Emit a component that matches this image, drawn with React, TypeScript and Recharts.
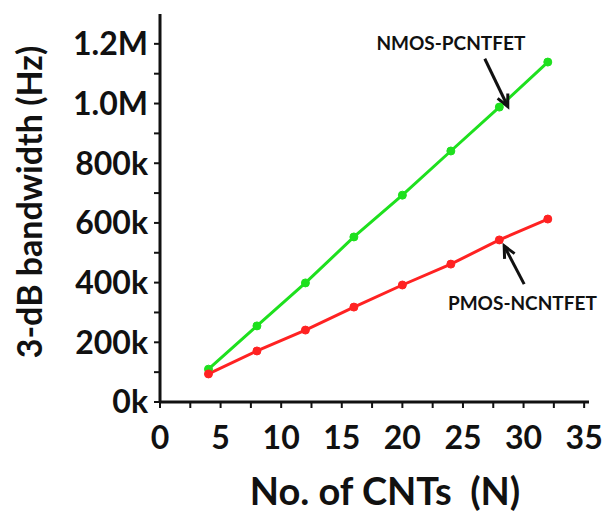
import { CartesianGrid, Line, LineChart, ReferenceDot, ReferenceLine, XAxis, YAxis } from "recharts";

const cntCounts = [4, 8, 12, 16, 20, 24, 28, 32];
const nmosPcntfet = [110000, 255000, 399000, 553000, 693000, 841000, 988000, 1139000];
const pmosNcntfet = [94000, 171000, 241000, 318000, 392000, 462000, 543000, 613000];

const xTicks = [0, 2.5, 5, 7.5, 10, 12.5, 15, 17.5, 20, 22.5, 25, 27.5, 30, 32.5, 35];
const yTicks = [0, 100000, 200000, 300000, 400000, 500000, 600000, 700000, 800000, 900000, 1000000, 1100000, 1200000];

const data = cntCounts.map((n, i) => ({ n, nmos: nmosPcntfet[i], pmos: pmosNcntfet[i] }));

const FONT = "Lato, 'Open Sans', sans-serif";
const INK = "#111";

const fmtY = (v: number) => {
  if (v % 200000 !== 0) return "";
  if (v >= 1000000) return `${(v / 1000000).toFixed(1)}M`;
  return `${v / 1000}k`;
};

const fmtX = (v: number) => (v % 5 === 0 ? String(v) : "");

function Arrow(props: any) {
  const { x1, y1, x2, y2 } = props;
  if (x1 == null || x2 == null) return null;
  const ang = Math.atan2(y2 - y1, x2 - x1);
  const len = 13;
  const spread = 0.45;
  const ax = x2 - len * Math.cos(ang - spread);
  const ay = y2 - len * Math.sin(ang - spread);
  const bx = x2 - len * Math.cos(ang + spread);
  const by = y2 - len * Math.sin(ang + spread);
  return (
    <g>
      <line x1={x1} y1={y1} x2={x2} y2={y2} stroke={INK} strokeWidth={3} />
      <polyline points={`${ax},${ay} ${x2},${y2} ${bx},${by}`} fill="none" stroke={INK} strokeWidth={3} />
    </g>
  );
}

function note(text: string) {
  return (props: any) => (
    <text
      x={props.cx}
      y={props.cy}
      textAnchor="middle"
      dominantBaseline="central"
      fontFamily={FONT}
      fontWeight={700}
      fontSize={19}
      fill={INK}
    >
      {text}
    </text>
  );
}

export default function App() {
  return (
    <div style={{ position: "absolute", left: 0, top: 0, background: "#fff" }}>
      <LineChart width={612} height={514} data={data} margin={{ top: 14, right: 23, bottom: 0, left: 0 }}>
        <CartesianGrid stroke="none" />
        <XAxis
          dataKey="n"
          type="number"
          domain={[0, 35.4]}
          ticks={xTicks}
          tickFormatter={fmtX}
          height={112}
          axisLine={{ stroke: INK, strokeWidth: 3 }}
          tickLine={{ stroke: INK, strokeWidth: 2 }}
          tickSize={6}
          tickMargin={18}
          tick={{ fill: INK, fontSize: 32, fontWeight: 700, fontFamily: FONT }}
          interval={0}
          label={{
            content: () => (
              <text x={385} y={490} textAnchor="middle" dominantBaseline="central" fontFamily={FONT} fontWeight={700} fontSize={38} fill={INK}>
                {"No. of CNTs\u00a0\u00a0(N)"}
              </text>
            )
          }}
        />
        <YAxis
          type="number"
          domain={[0, 1300000]}
          ticks={yTicks}
          tickFormatter={fmtY}
          width={160}
          axisLine={{ stroke: INK, strokeWidth: 3 }}
          tickLine={{ stroke: INK, strokeWidth: 2 }}
          tickSize={6}
          tickMargin={6}
          tick={{ fill: INK, fontSize: 32, fontWeight: 700, fontFamily: FONT }}
          interval={0}
          label={{
            content: () => (
              <text
                x={28}
                y={202}
                transform="rotate(-90 28 202)"
                textAnchor="middle"
                dominantBaseline="central"
                fontFamily={FONT}
                fontWeight={700}
                fontSize={34}
                fill={INK}
              >
                3-dB bandwidth (Hz)
              </text>
            )
          }}
        />
        <Line
          type="linear"
          dataKey="nmos"
          stroke="#1ee01e"
          strokeWidth={3}
          dot={{ r: 4, fill: "#1ee01e", stroke: "#1ee01e", strokeWidth: 1 }}
          isAnimationActive={false}
        />
        <Line
          type="linear"
          dataKey="pmos"
          stroke="#ff2222"
          strokeWidth={3}
          dot={{ r: 4, fill: "#ff2222", stroke: "#ff2222", strokeWidth: 1 }}
          isAnimationActive={false}
        />
        <ReferenceLine segment={[{ x: 26.8, y: 1150000 }, { x: 28.7, y: 990000 }]} shape={Arrow} />
        <ReferenceLine segment={[{ x: 30.05, y: 395000 }, { x: 28.4, y: 523000 }]} shape={Arrow} />
        <ReferenceDot x={24.0} y={1206000} r={0} shape={note("NMOS-PCNTFET")} />
        <ReferenceDot x={29.9} y={335000} r={0} shape={note("PMOS-NCNTFET")} />
      </LineChart>
    </div>
  );
}
